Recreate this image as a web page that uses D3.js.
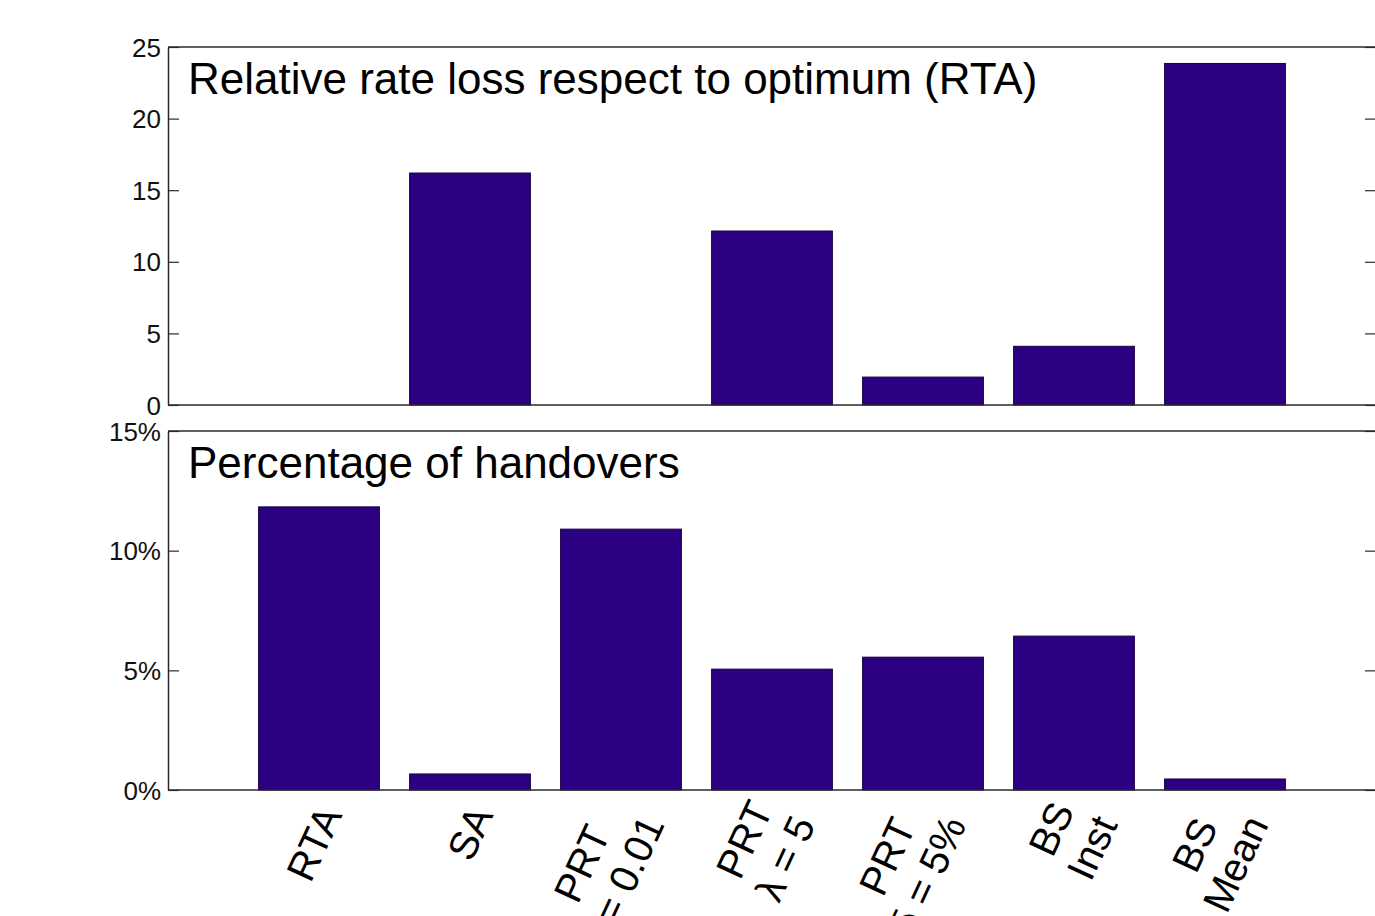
<!DOCTYPE html>
<html>
<head>
<meta charset="utf-8">
<script src="https://cdn.jsdelivr.net/npm/d3@7/dist/d3.min.js"></script>
<style>
  html, body { margin: 0; padding: 0; background: #fff; }
  svg { display: block; font-family: "Liberation Sans", Arial, Helvetica, sans-serif; }
</style>
</head>
<body>
<svg id="chart" width="1375" height="916"></svg>
<script>
// Schemes compared, one bar each (two-line tick labels)
const categories = [
  ["RTA"],
  ["SA"],
  ["PRT", "ε = 0.01"],
  ["PRT", "λ = 5"],
  ["PRT", "δ = 5%"],
  ["BS", "Inst"],
  ["BS", "Mean"]
];
// Relative rate loss with respect to the optimum (RTA)
const rateLoss = [0, 16.2, 0, 12.15, 1.95, 4.1, 23.85];
// Percentage of handovers (in %)
const handovers = [11.83, 0.67, 10.9, 5.05, 5.55, 6.43, 0.46];

const rateTicks = [0, 5, 10, 15, 20, 25];
const handoverTicks = [0, 5, 10, 15];

const svg = d3.select("#chart");
const left = 168, right = 1376;
const barColor = "#2c0082";
const axisColor = "#2a2a2a";

const x = d3.scaleLinear().domain([0, categories.length + 1]).range([left, right]);
const barWidth = 0.8;

function panel(values, ticks, top, bottom, fmt, title) {
  const y = d3.scaleLinear().domain([ticks[0], ticks[ticks.length - 1]]).range([bottom, top]);
  const g = svg.append("g");

  // bars
  g.selectAll("rect.bar").data(values).enter().append("rect")
    .attr("class", "bar")
    .attr("x", (d, i) => x(i + 1 - barWidth / 2))
    .attr("width", x(barWidth) - x(0))
    .attr("y", d => y(d))
    .attr("height", d => y(0) - y(d))
    .attr("fill", barColor)
    .attr("stroke", "#1a0040")
    .attr("stroke-width", 1);

  // left axis with inward ticks
  const yAxis = d3.axisLeft(y).tickValues(ticks).tickFormat(fmt).tickSizeInner(-11).tickSizeOuter(0).tickPadding(7);
  const ax = g.append("g").attr("transform", `translate(${left},0)`).call(yAxis);
  ax.select(".domain").attr("stroke", axisColor).attr("stroke-width", 1.5);
  ax.selectAll(".tick line").attr("stroke", axisColor).attr("stroke-width", 1.2);
  ax.selectAll(".tick text").attr("font-size", 26).attr("fill", "#111").attr("dy", "0.35em");

  // right axis ticks, inward
  const rAxis = d3.axisRight(y).tickValues(ticks).tickFormat("").tickSizeInner(-11).tickSizeOuter(0);
  const rx = g.append("g").attr("transform", `translate(${right},0)`).call(rAxis);
  rx.select(".domain").attr("stroke", axisColor).attr("stroke-width", 1.5);
  rx.selectAll(".tick line").attr("stroke", axisColor).attr("stroke-width", 1.2);

  // top and bottom frame
  g.append("line").attr("x1", left).attr("x2", right).attr("y1", top).attr("y2", top)
    .attr("stroke", axisColor).attr("stroke-width", 1.5);
  g.append("line").attr("x1", left).attr("x2", right).attr("y1", bottom).attr("y2", bottom)
    .attr("stroke", axisColor).attr("stroke-width", 1.5);

  // panel title
  g.append("text").attr("x", 188).attr("y", top + 47)
    .attr("font-size", 44).attr("fill", "#000").text(title);
  return y;
}

panel(rateLoss, rateTicks, 47, 405, d => d3.format("d")(d), "Relative rate loss respect to optimum (RTA)");
panel(handovers, handoverTicks, 431, 790, d => d + "%", "Percentage of handovers");

// rotated category labels: block right-aligned at the anchor, lines centred in the block
const labelSize = 40, lineGap = 45, angle = 65;
const lab = svg.append("g").selectAll("g").data(categories).enter().append("g")
  .attr("transform", (d, i) => `translate(${x(i + 1) + 11},809) rotate(${-angle})`);
lab.each(function(lines) {
  const n = lines.length;
  const texts = d3.select(this).selectAll("text").data(lines).enter().append("text")
    .attr("text-anchor", "middle")
    .attr("font-size", labelSize)
    .attr("fill", "#000")
    .attr("y", (t, k) => (k - (n - 1) / 2) * lineGap)
    .attr("dy", "0.35em")
    .text(t => t);
  let w = 0;
  texts.each(function() { w = Math.max(w, this.getComputedTextLength()); });
  texts.attr("x", -w / 2);
});
</script>
</body>
</html>
